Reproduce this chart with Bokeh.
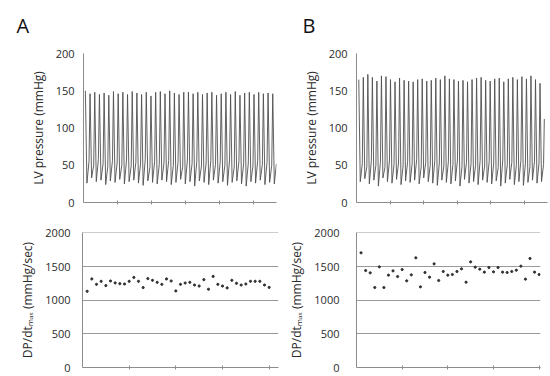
from bokeh.plotting import figure
from bokeh.models import Range1d, FixedTicker
from bokeh.core.properties import value
from bokeh.layouts import column, row
from bokeh.embed import file_html
from bokeh.resources import INLINE

# ---------------- data ----------------
peaks_A = [150, 146, 148, 145, 147, 144, 149, 146, 148, 145, 149, 147, 145, 148, 143, 148, 149, 146, 150, 147,
           145, 148, 148, 146, 148, 145, 147, 148, 144, 146, 148, 145, 149, 144, 147, 148, 145, 148, 146, 147, 146]
troughs_A = [26, 33, 28, 30, 24, 29, 27, 31, 25, 28, 30, 26, 23, 29, 27, 25, 30, 28, 24, 27,
             31, 25, 28, 22, 29, 27, 24, 30, 26, 28, 23, 27, 29, 25, 22, 28, 26, 30, 24, 27, 25]
shoulders_A = [55, 50, 58, 52, 48, 56, 53, 50, 57, 49, 54, 52, 58, 47, 55, 51, 53, 56, 50, 54,
               48, 57, 52, 55, 49, 53, 56, 51, 54, 50, 57, 48, 55, 52, 53, 49, 56, 51, 54, 50, 52]

peaks_B = [165, 168, 172, 168, 163, 170, 169, 165, 162, 167, 164, 163, 162, 165, 166, 163, 164, 167, 165, 170,
           166, 165, 163, 164, 162, 165, 167, 168, 164, 163, 166, 167, 162, 166, 168, 165, 169, 166, 170, 165, 160]
troughs_B = [28, 32, 25, 30, 22, 33, 28, 26, 31, 24, 29, 27, 30, 25, 33, 28, 26, 23, 30, 27,
             25, 29, 22, 31, 26, 28, 24, 30, 27, 25, 29, 22, 26, 31, 24, 28, 23, 27, 30, 26, 28]
shoulders_B = [52, 48, 56, 50, 54, 47, 57, 51, 53, 49, 55, 52, 58, 48, 54, 50, 56, 53, 49, 55,
               51, 57, 48, 54, 52, 50, 56, 49, 55, 53, 47, 57, 51, 54, 50, 56, 52, 48, 55, 53, 51]
end_B = 112

dpdt_A = [1132, 1315, 1235, 1280, 1216, 1285, 1256, 1245, 1240, 1280, 1338, 1280, 1187, 1320, 1295, 1265, 1235, 1315, 1285, 1137,
          1235, 1255, 1265, 1225, 1210, 1305, 1162, 1353, 1235, 1210, 1182, 1295, 1250, 1225, 1240, 1280, 1280, 1280, 1225, 1190]
dpdt_B = [1703, 1440, 1406, 1188, 1495, 1188, 1371, 1435, 1351, 1455, 1287, 1376, 1629, 1198, 1411, 1341, 1539, 1292, 1426, 1371,
          1381, 1426, 1465, 1267, 1569, 1490, 1460, 1416, 1485, 1421, 1485, 1416, 1411, 1426, 1445, 1505, 1312, 1619, 1416, 1381]

pressure_ticks = [0, 50, 100, 150, 200]
dpdt_ticks = [0, 500, 1000, 1500, 2000]
pressure_label = "LV pressure (mmHg)"
dpdt_label = "DP/dt\u2098\u2090\u2093 (mmHg/sec)"
panel_letters = ["A", "B"]

FONT = "Open Sans"
TXT = "#2b2b2b"
AXC = "#8c8c8c"
TRACE = "#505050"


def trace_xy(peaks, troughs, shoulders, end=None):
    xs, ys = [], []
    for k in range(len(peaks)):
        xs += [k, k + 0.33, k + 0.78]
        ys += [peaks[k], troughs[k], shoulders[k]]
    if end is not None:
        xs.append(len(peaks) - 1 + 0.95)
        ys.append(end)
    return xs, ys


def style(p, yticks, ylabel, ystand, xticks):
    p.outline_line_color = None
    p.background_fill_color = "white"
    p.border_fill_color = "white"
    p.yaxis.ticker = FixedTicker(ticks=yticks)
    p.yaxis.axis_label = ylabel
    p.yaxis.axis_label_text_font = FONT
    p.yaxis.axis_label_text_font_size = "12px"
    p.yaxis.axis_label_text_font_style = "normal"
    p.yaxis.axis_label_text_color = TXT
    p.yaxis.axis_label_standoff = 6
    p.yaxis.major_label_text_font = FONT
    p.yaxis.major_label_text_font_size = "11px"
    p.yaxis.major_label_text_color = TXT
    p.yaxis.major_label_standoff = ystand
    p.yaxis.major_tick_out = 0
    p.yaxis.major_tick_in = 0
    p.yaxis.minor_tick_out = 0
    p.yaxis.minor_tick_in = 0
    p.yaxis.axis_line_color = AXC
    p.xaxis.ticker = FixedTicker(ticks=xticks)
    p.xaxis.major_label_overrides = {t: "" for t in xticks}
    p.xaxis.major_label_standoff = 0
    p.xaxis.major_tick_out = 2
    p.xaxis.major_tick_in = 2
    p.xaxis.minor_tick_out = 0
    p.xaxis.minor_tick_in = 0
    p.xaxis.axis_line_color = AXC
    p.xaxis.major_tick_line_color = AXC
    p.xgrid.grid_line_color = None


def top_panel(w, left, right, peaks, troughs, shoulders, xr, ticks, end=None):
    p = figure(width=w, height=168, output_backend="svg", toolbar_location=None,
               x_range=Range1d(*xr), y_range=Range1d(0, 200),
               min_border_left=left, min_border_right=right, min_border_top=11, min_border_bottom=8)
    xs, ys = trace_xy(peaks, troughs, shoulders, end)
    p.line(xs, ys, line_color=TRACE, line_width=0.9)
    style(p, pressure_ticks, pressure_label, 9, ticks)
    p.ygrid.grid_line_color = None
    return p


def bottom_panel(w, left, right, vals, xr, ystand):
    p = figure(width=w, height=166, output_backend="svg", toolbar_location=None,
               x_range=Range1d(*xr), y_range=Range1d(0, 2005),
               min_border_left=left, min_border_right=right, min_border_top=22, min_border_bottom=9)
    idx = list(range(1, len(vals) + 1))
    p.scatter(idx, vals, size=2.2, color="#303030")
    style(p, dpdt_ticks, dpdt_label, ystand, [10, 20, 30, 40])
    p.ygrid.ticker = FixedTicker(ticks=[500, 1000, 1500, 2000])
    p.ygrid.grid_line_color = "#9a9a9a"
    p.ygrid.grid_line_width = 1
    return p


# header strip carrying the panel letters (pixel-based ranges)
header = figure(width=550, height=42, output_backend="svg", toolbar_location=None,
                x_range=Range1d(0, 550), y_range=Range1d(42, 0),
                min_border=0, min_border_left=0, min_border_right=0, min_border_top=0, min_border_bottom=0)
header.axis.visible = False
header.grid.grid_line_color = None
header.outline_line_color = None
header.text(x=[16, 302], y=[25, 25], text=panel_letters, text_font=value(FONT),
            text_font_size="20px", text_color="#111111", text_baseline="middle", text_align="left")

pA = top_panel(280, 83, 4, peaks_A, troughs_A, shoulders_A, (-0.4, 40.8),
               [6.85, 14.1, 21.35, 28.6, 35.85])
pB = top_panel(270, 76, 3, peaks_B, troughs_B, shoulders_B, (-0.5, 41.65),
               [6.98, 14.3, 21.8, 29.1, 36.6], end=end_B)
qA = bottom_panel(280, 82, 2, dpdt_A, (0, 42), 12)
qB = bottom_panel(270, 76, 10, dpdt_B, (0, 40.3), 17)

layout = column(header, row(pA, pB), row(qA, qB))
open("out.html", "w").write(file_html(layout, INLINE))
